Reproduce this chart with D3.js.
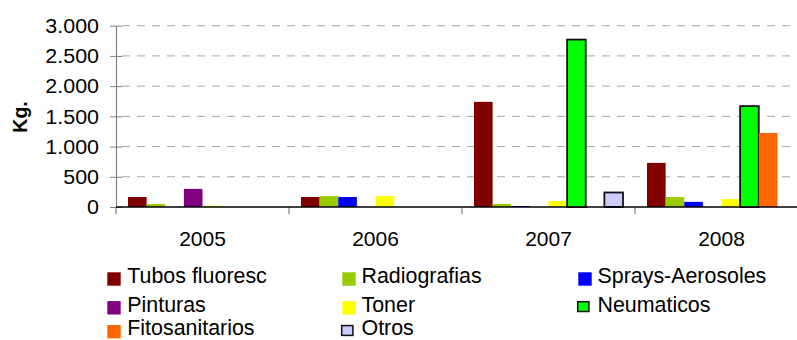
<!DOCTYPE html>
<html>
<head>
<meta charset="utf-8">
<script src="https://cdn.jsdelivr.net/npm/d3@7"></script>
<style>
  html, body { margin: 0; padding: 0; background: #fff; }
  svg { display: block; }
  text { font-family: "Liberation Sans", Arial, sans-serif; fill: #000; }
</style>
</head>
<body>
<svg id="chart" width="797" height="340"></svg>
<script>
// Waste collected per year (kg), by type
const years = ["2005", "2006", "2007", "2008"];
const seriesNames = ["Tubos fluoresc", "Radiografias", "Sprays-Aerosoles", "Pinturas",
                     "Toner", "Neumaticos", "Fitosanitarios", "Otros"];
const seriesColors = ["#800000", "#99CC00", "#0000FF", "#800080",
                      "#FFFF00", "#00FF00", "#FF6600", "#CCCCFF"];
const outlined = ["Neumaticos", "Otros"];

const tubosFluoresc   = [165, 165, 1740, 730];
const radiografias    = [50, 180, 50, 165];
const spraysAerosoles = [0, 165, 15, 85];
const pinturas        = [300, 0, 0, 0];
const toner           = [20, 180, 100, 130];
const neumaticos      = [0, 0, 2770, 1670];
const fitosanitarios  = [0, 0, 0, 1225];
const otros           = [0, 0, 240, 0];

const yTicks = [0, 500, 1000, 1500, 2000, 2500, 3000];
const yTickLabels = ["0", "500", "1.000", "1.500", "2.000", "2.500", "3.000"];
const yTitle = "Kg.";

const seriesValues = [tubosFluoresc, radiografias, spraysAerosoles, pinturas,
                      toner, neumaticos, fitosanitarios, otros];

const rows = [];
years.forEach((yr, i) => {
  seriesNames.forEach((s, j) => rows.push({ year: yr, series: s, color: seriesColors[j], value: seriesValues[j][i] }));
});

const svg = d3.select("#chart");

const plot = { left: 116, right: 808, top: 25.7, bottom: 207 };

const x = d3.scaleBand().domain(years).range([plot.left, plot.right]).padding(0);
const groupPad = 12;
const xs = d3.scaleBand().domain(seriesNames).range([groupPad, x.bandwidth() - groupPad]).padding(0);
const y = d3.scaleLinear().domain([0, 3000]).range([plot.bottom, plot.top]);

// Dashed horizontal gridlines
svg.append("g")
  .selectAll("line")
  .data(yTicks.filter(v => v > 0))
  .join("line")
  .attr("x1", plot.left + 6)
  .attr("x2", plot.right)
  .attr("y1", d => y(d))
  .attr("y2", d => y(d))
  .attr("stroke", "#a6a6a6")
  .attr("stroke-width", 1)
  .attr("stroke-dasharray", "8,7");

// Bars
svg.append("g")
  .selectAll("rect")
  .data(rows.filter(d => d.value > 0))
  .join("rect")
  .attr("x", d => x(d.year) + xs(d.series))
  .attr("width", xs.bandwidth())
  .attr("y", d => y(d.value))
  .attr("height", d => y(0) - y(d.value))
  .attr("fill", d => d.color)
  .attr("stroke", d => outlined.includes(d.series) ? "#111" : "none")
  .attr("stroke-width", 1.8);

// Y axis (gray line with crossing ticks)
const yAxis = d3.axisLeft(y)
  .tickValues(yTicks)
  .tickSizeInner(6)
  .tickSizeOuter(0)
  .tickFormat("");
const yg = svg.append("g")
  .attr("transform", `translate(${plot.left},0)`)
  .call(yAxis);
yg.select(".domain").attr("stroke", "#808080").attr("stroke-width", 1.2);
yg.selectAll(".tick line").attr("stroke", "#808080").attr("x2", -6).attr("x1", 6);

// Y tick labels (slightly wide face)
svg.append("g")
  .selectAll("text")
  .data(yTicks)
  .join("text")
  .attr("transform", d => `translate(99,${y(d) + 7.2}) scale(1.1,1)`)
  .attr("text-anchor", "end")
  .attr("font-size", "19.5px")
  .text((d, i) => yTickLabels[i]);

// X axis: black base line, gray separators between categories
svg.append("g")
  .selectAll("line")
  .data(years.map(yr => x(yr)))
  .join("line")
  .attr("x1", d => d).attr("x2", d => d)
  .attr("y1", plot.bottom).attr("y2", plot.bottom + 7)
  .attr("stroke", "#808080")
  .attr("stroke-width", 1.2);

svg.append("line")
  .attr("x1", plot.left).attr("x2", plot.right)
  .attr("y1", plot.bottom).attr("y2", plot.bottom)
  .attr("stroke", "#000")
  .attr("stroke-width", 1.3);

svg.append("g")
  .selectAll("text")
  .data(years)
  .join("text")
  .attr("x", d => x(d) + x.bandwidth() / 2)
  .attr("y", 246)
  .attr("text-anchor", "middle")
  .attr("font-size", "21px")
  .text(d => d);

// Y axis title
svg.append("text")
  .attr("transform", "translate(26.5,117) rotate(-90)")
  .attr("text-anchor", "middle")
  .attr("font-size", "19.5px")
  .attr("font-weight", "bold")
  .text(yTitle);

// Legend: three columns, filled row by row
const legendCols = [107.3, 342.3, 578.3];
const legendTextX = [127.3, 361.5, 597.5];
const legendBaselines = [282.7, 311.5, 335.4];
const sw = 13.4;

const legend = svg.append("g");
seriesNames.forEach((name, i) => {
  const col = i % 3, row = Math.floor(i / 3);
  const bx = legendCols[col];
  const base = legendBaselines[row];
  if (outlined.includes(name)) {
    legend.append("rect")
      .attr("x", bx - 0.6).attr("y", base - 9.8)
      .attr("width", 11.2).attr("height", 9.8)
      .attr("fill", seriesColors[i])
      .attr("stroke", "#111").attr("stroke-width", 1.5);
  } else {
    legend.append("rect")
      .attr("x", bx).attr("y", base - 10.4)
      .attr("width", sw).attr("height", sw)
      .attr("fill", seriesColors[i]);
  }
  legend.append("text")
    .attr("x", legendTextX[col])
    .attr("y", base)
    .attr("font-size", "21.4px")
    .text(name);
});
</script>
</body>
</html>
